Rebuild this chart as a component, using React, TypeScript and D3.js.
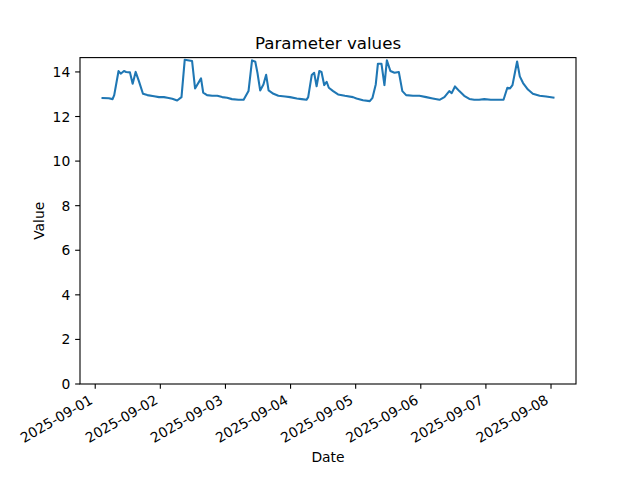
import React, { useEffect, useRef } from 'react';
import * as d3 from 'd3';

// hours since 2025-09-01 00:00 UTC, and the parameter value at that time
const hours = [
  2.7, 5.0, 6.4, 7.0, 8.6, 9.4, 10.6, 11.4, 12.8, 13.8, 14.9, 16.1, 17.6, 19.2, 21.7, 23.5,
  25.3, 26.6, 28.4, 30.2, 31.8, 33.0, 35.7, 36.8, 39.0, 39.8, 41.2, 43.1, 45.0, 46.8, 48.6,
  50.4, 52.8, 54.7, 56.5, 57.8, 59.0, 59.8, 60.8, 62.0, 63.0, 63.9, 65.7, 67.5, 70.0, 71.8,
  74.3, 76.1, 77.9, 78.5, 79.8, 80.7, 81.6, 82.6, 83.4, 84.4, 85.3, 86.1, 87.7, 89.5, 92.0,
  95.0, 96.3, 98.7, 101.2, 102.2, 103.4, 104.2, 105.5, 106.6, 107.5, 108.8, 110.3, 111.9,
  113.2, 114.6, 117.1, 119.5, 122.0, 124.4, 126.9, 128.7, 130.5, 131.4, 132.6, 134.2, 136.0,
  137.9, 139.7, 141.5, 143.4, 145.8, 148.3, 150.5, 151.9, 152.9, 153.8, 155.5, 156.5, 157.7,
  159.5, 161.3, 163.8, 166.2, 168.9,
];

const values = [
  12.83, 12.82, 12.78, 12.96, 14.04, 13.92, 14.04, 14.0, 13.98, 13.47, 14.0, 13.59, 13.02, 12.96, 12.91, 12.87,
  12.87, 12.84, 12.8, 12.72, 12.87, 14.55, 14.49, 13.26, 13.71, 13.07, 12.96, 12.93, 12.93, 12.87, 12.84,
  12.78, 12.75, 12.75, 13.14, 14.52, 14.46, 13.96, 13.17, 13.44, 13.87, 13.17, 13.02, 12.93, 12.9, 12.87,
  12.81, 12.78, 12.75, 12.87, 13.86, 13.96, 13.36, 14.04, 14.0, 13.41, 13.56, 13.29, 13.14, 12.99, 12.93,
  12.87, 12.81, 12.73, 12.69, 12.84, 13.44, 14.37, 14.37, 13.41, 14.52, 14.04, 13.96, 14.0,
  13.14, 12.96, 12.93, 12.93, 12.87, 12.81, 12.75, 12.87, 13.14, 13.05, 13.35, 13.14, 12.93,
  12.79, 12.75, 12.75, 12.78, 12.75, 12.75, 12.75, 13.29, 13.26, 13.41, 14.47, 13.8, 13.5,
  13.21, 13.02, 12.93, 12.9, 12.85,
];

const yTicks = [0, 2, 4, 6, 8, 10, 12, 14];

const START = Date.UTC(2025, 8, 1);

interface Point {
  date: Date;
  value: number;
}

const App = () => {
  const svgRef = useRef<SVGSVGElement | null>(null);

  useEffect(() => {
    if (!svgRef.current) return;
    const svg = d3.select(svgRef.current);
    svg.selectAll('*').remove();

    const width = 640;
    const height = 480;
    const margin = { top: 57.6, right: 64, bottom: 96, left: 80 };
    const x0 = margin.left;
    const x1 = width - margin.right;
    const y0 = height - margin.bottom;
    const y1 = margin.top;
    const font = 'DejaVu Sans, sans-serif';
    const tickLen = 4.86;

    const data: Point[] = hours.map((h, i) => ({
      date: new Date(START + h * 3600 * 1000),
      value: values[i],
    }));

    // matplotlib-like 5% margins
    const tExt = d3.extent(data, d => +d.date) as [number, number];
    const tPad = (tExt[1] - tExt[0]) * 0.05;
    const vExt = d3.extent(data, d => d.value) as [number, number];
    const vTop = vExt[1] + (vExt[1] - vExt[0]) * 0.05;

    const xScale = d3.scaleUtc()
      .domain([new Date(tExt[0] - tPad), new Date(tExt[1] + tPad)])
      .range([x0, x1]);

    const yScale = d3.scaleLinear()
      .domain([0, vTop])
      .range([y0, y1]);

    svg.append('rect')
      .attr('width', width)
      .attr('height', height)
      .attr('fill', '#ffffff');

    // line
    const line = d3.line<Point>()
      .x(d => xScale(d.date))
      .y(d => yScale(d.value));

    svg.append('path')
      .datum(data)
      .attr('fill', 'none')
      .attr('stroke', '#1f77b4')
      .attr('stroke-width', 2.08)
      .attr('stroke-linejoin', 'round')
      .attr('stroke-linecap', 'square')
      .attr('d', line);

    // frame
    svg.append('rect')
      .attr('x', x0)
      .attr('y', y1)
      .attr('width', x1 - x0)
      .attr('height', y0 - y1)
      .attr('fill', 'none')
      .attr('stroke', '#000')
      .attr('stroke-width', 1.1);

    // x ticks
    const xTicks = xScale.ticks(d3.utcDay.every(1) as any)
      .filter(d => +d >= +xScale.domain()[0] && +d <= +xScale.domain()[1]);
    const fmt = d3.utcFormat('%Y-%m-%d');
    const xg = svg.append('g');
    xTicks.forEach(t => {
      const tx = xScale(t);
      xg.append('line')
        .attr('x1', tx).attr('x2', tx)
        .attr('y1', y0).attr('y2', y0 + tickLen)
        .attr('stroke', '#000').attr('stroke-width', 1.1);
      const ax = tx - 1.5;
      const ay = y0 + tickLen * 2 + 9.1;
      xg.append('text')
        .attr('transform', `translate(${ax},${ay}) rotate(-30)`)
        .attr('text-anchor', 'end')
        .attr('font-family', font)
        .attr('font-size', 13.89)
        .attr('fill', '#000')
        .text(fmt(t));
    });

    // y ticks
    const yg = svg.append('g');
    yTicks.forEach(v => {
      const ty = yScale(v);
      yg.append('line')
        .attr('x1', x0 - tickLen).attr('x2', x0)
        .attr('y1', ty).attr('y2', ty)
        .attr('stroke', '#000').attr('stroke-width', 1.1);
      yg.append('text')
        .attr('x', x0 - tickLen * 2)
        .attr('y', ty)
        .attr('dy', '0.36em')
        .attr('text-anchor', 'end')
        .attr('font-family', font)
        .attr('font-size', 13.89)
        .attr('fill', '#000')
        .text(v);
    });

    // labels
    svg.append('text')
      .attr('x', (x0 + x1) / 2)
      .attr('y', 49)
      .attr('text-anchor', 'middle')
      .attr('font-family', font)
      .attr('font-size', 16.67)
      .attr('fill', '#000')
      .text('Parameter values');

    svg.append('text')
      .attr('x', (x0 + x1) / 2)
      .attr('y', 462)
      .attr('text-anchor', 'middle')
      .attr('font-family', font)
      .attr('font-size', 13.89)
      .attr('fill', '#000')
      .text('Date');

    svg.append('text')
      .attr('transform', `translate(44,${(y0 + y1) / 2}) rotate(-90)`)
      .attr('text-anchor', 'middle')
      .attr('font-family', font)
      .attr('font-size', 13.89)
      .attr('fill', '#000')
      .text('Value');
  }, []);

  return (
    <svg
      ref={svgRef}
      width={640}
      height={480}
      style={{ position: 'absolute', left: 0, top: 0, display: 'block' }}
    />
  );
};

export default App;
